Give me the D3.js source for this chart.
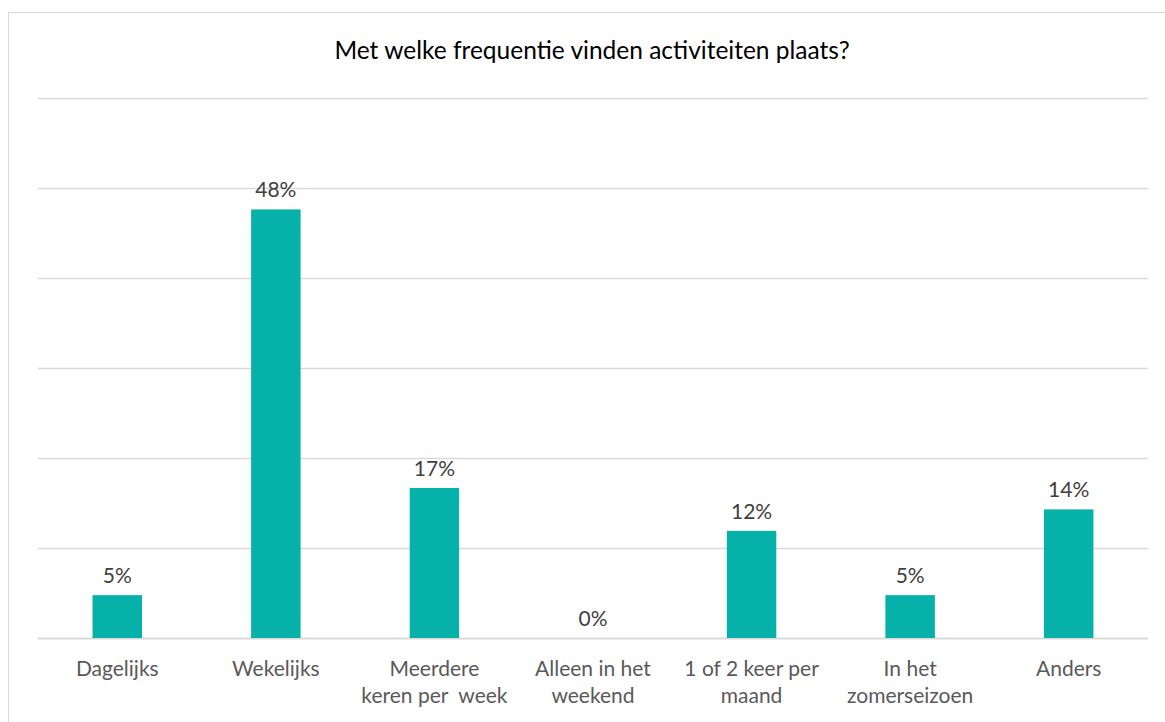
<!DOCTYPE html>
<html>
<head>
<meta charset="utf-8">
<script src="https://cdn.jsdelivr.net/npm/d3@7"></script>
<style>
  body { margin: 0; background: #fff; }
  text { font-family: "Lato", "Open Sans", sans-serif; }
</style>
</head>
<body>
<script>
// data (shares out of 42 answers)
var categories = [
  ["Dagelijks"],
  ["Wekelijks"],
  ["Meerdere", "keren per  week"],
  ["Alleen in het", "weekend"],
  ["1 of 2 keer per", "maand"],
  ["In het", "zomerseizoen"],
  ["Anders"]
];
var values = [0.0476, 0.4762, 0.1667, 0, 0.1190, 0.0476, 0.1429];
var yTicks = [0, 0.1, 0.2, 0.3, 0.4, 0.5, 0.6];
var title = "Met welke frequentie vinden activiteiten plaats?";

var width = 1165, height = 722;
var svg = d3.select("body").append("svg").attr("width", width).attr("height", height);

// chart frame (right and bottom edge fall outside the picture)
svg.append("rect")
    .attr("x", 8.5).attr("y", 12.5)
    .attr("width", 1170).attr("height", 720)
    .attr("fill", "#fff")
    .attr("stroke", "#d9d9d9");

var x = d3.scaleBand().domain(d3.range(categories.length)).range([38, 1148]).paddingInner(0.688).paddingOuter(0.344);
var y = d3.scaleLinear().domain([0, 0.6]).range([638, 98]);

// gridlines
svg.append("g").selectAll("line")
    .data(yTicks)
    .enter().append("line")
    .attr("x1", 38).attr("x2", 1148)
    .attr("y1", function(d) { return Math.round(y(d)) + 0.5; })
    .attr("y2", function(d) { return Math.round(y(d)) + 0.5; })
    .attr("stroke", "#d9d9d9")
    .attr("stroke-width", function(d) { return d === 0 ? 2 : 1.5; });

// bars
svg.append("g").selectAll("rect")
    .data(values)
    .enter().append("rect")
    .attr("x", function(d, i) { return x(i); })
    .attr("y", function(d) { return y(d); })
    .attr("width", x.bandwidth())
    .attr("height", function(d) { return y(0) - y(d); })
    .attr("fill", "#06b1aa");

// value labels
svg.append("g").selectAll("text")
    .data(values)
    .enter().append("text")
    .attr("x", function(d, i) { return x(i) + x.bandwidth() / 2; })
    .attr("y", function(d) { return y(d) - 12; })
    .attr("text-anchor", "middle")
    .attr("fill", "#404040")
    .style("font-size", "21px")
    .text(function(d) { return Math.round(d * 100) + "%"; });

// category labels
var cat = svg.append("g").selectAll("text")
    .data(categories)
    .enter().append("text")
    .attr("x", function(d, i) { return x(i) + x.bandwidth() / 2; })
    .attr("y", 676)
    .attr("text-anchor", "middle")
    .attr("fill", "#595959")
    .style("font-size", "21px")
    .style("white-space", "pre");
cat.selectAll("tspan")
    .data(function(d) { return d; })
    .enter().append("tspan")
    .attr("x", function() { return d3.select(this.parentNode).attr("x"); })
    .attr("dy", function(d, i) { return i === 0 ? 0 : 27; })
    .text(function(d) { return d; });

// title
svg.append("text")
    .attr("x", 592)
    .attr("y", 59)
    .attr("text-anchor", "middle")
    .attr("fill", "#000")
    .style("font-size", "24.5px")
    .text(title);
</script>
</body>
</html>
